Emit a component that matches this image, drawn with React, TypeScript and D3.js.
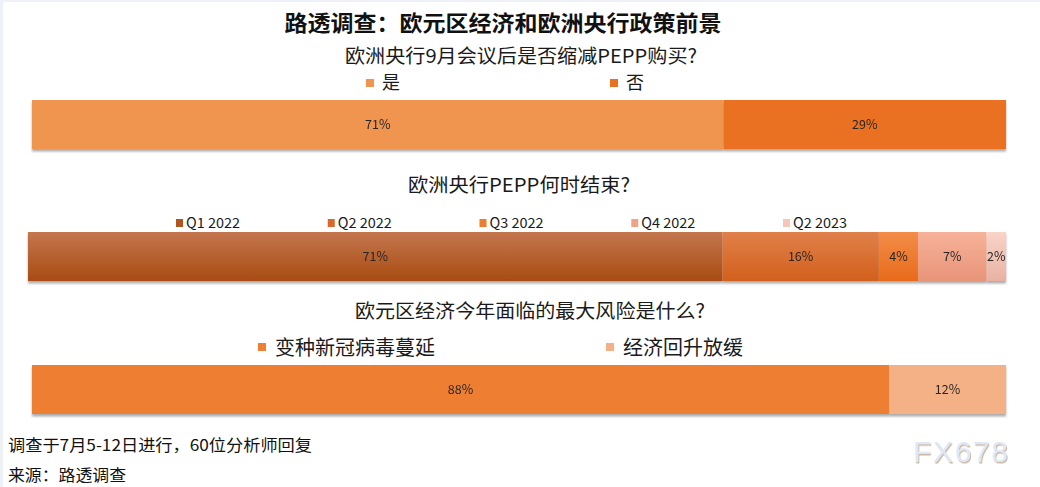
import * as d3 from 'd3';

const title = '路透调查：欧元区经济和欧洲央行政策前景';

const q1Title = '欧洲央行9月会议后是否缩减PEPP购买?';
const q1Labels = ['是', '否'];
const q1Values = [71, 29];
const q1Colors = ['#f0954f', '#eb7120'];

const q2Title = '欧洲央行PEPP何时结束?';
const q2Labels = ['Q1 2022', 'Q2 2022', 'Q3 2022', 'Q4 2022', 'Q2 2023'];
const q2Values = [71, 16, 4, 7, 2];
const q2Top = ['#c4764e', '#e0804a', '#f38d48', '#f6b299', '#f9d4c7'];
const q2Bottom = ['#a84c12', '#d2601c', '#e86b1b', '#e89478', '#e8b2a3'];
const q2Swatch = ['#b25620', '#d9692a', '#ef7b2c', '#f0a487', '#f5c7b8'];

const q3Title = '欧元区经济今年面临的最大风险是什么?';
const q3Labels = ['变种新冠病毒蔓延', '经济回升放缓'];
const q3Values = [88, 12];
const q3Colors = ['#ee7f33', '#f4b185'];

const note = '调查于7月5-12日进行，60位分析师回复';
const source = '来源：路透调查';

const W = 1040;
const H = 487;
const CJK = '"Noto Sans CJK SC", "Noto Sans", sans-serif';

function stack(values: number[]) {
  let acc = 0;
  return values.map((v) => {
    const s = { x0: acc, x1: acc + v, v };
    acc += v;
    return s;
  });
}

function Bar({
  values, colors, x0, x1, y, h, fills,
}: {
  values: number[]; colors: string[]; x0: number; x1: number; y: number; h: number; fills?: string[];
}) {
  const x = d3.scaleLinear().domain([0, d3.sum(values)]).range([x0, x1]);
  const segs = stack(values);
  return (
    <g filter="url(#shadow)">
      {segs.map((s, i) => (
        <rect key={i} x={x(s.x0)} y={y} width={x(s.x1) - x(s.x0)} height={h}
          fill={fills ? fills[i] : colors[i]} />
      ))}
      {segs.map((s, i) => (
        <text key={'t' + i} x={(x(s.x0) + x(s.x1)) / 2} y={y + h / 2 + 4.5}
          textAnchor="middle" fontSize={12.5} fill="#262626" fontFamily={CJK}>
          {s.v}%
        </text>
      ))}
    </g>
  );
}

export default function App() {
  const legend1 = d3.scalePoint<string>().domain(q1Labels).range([366, 610]);
  const legend2 = d3.scalePoint<string>().domain(q2Labels).range([176, 783]);
  const legend3 = d3.scalePoint<string>().domain(q3Labels).range([258, 606]);

  return (
    <svg width={W} height={H} style={{ position: 'absolute', left: 0, top: 0, background: '#fff' }}>
      <defs>
        <filter id="shadow" x="-5%" y="-20%" width="110%" height="150%">
          <feDropShadow dx="0" dy="2.5" stdDeviation="1.2" floodColor="#6b6b6b" floodOpacity="0.55" />
        </filter>
        {q2Labels.map((_, i) => (
          <linearGradient key={i} id={'g' + i} x1="0" y1="0" x2="0" y2="1">
            <stop offset="0" stopColor={q2Top[i]} />
            <stop offset="1" stopColor={q2Bottom[i]} />
          </linearGradient>
        ))}
        <filter id="wm" x="-10%" y="-20%" width="120%" height="150%">
          <feDropShadow dx="1" dy="1.5" stdDeviation="0.6" floodColor="#b89a7c" floodOpacity="0.7" />
        </filter>
      </defs>
      <rect x={0} y={0} width={W} height={H} fill="#fff" />
      <rect x={0} y={0} width={3} height={H} fill="#eef2f8" />
      <rect x={0} y={0} width={W} height={2} fill="#eef2f8" />

      <text x={503} y={31} textAnchor="middle" fontSize={22} fontWeight={700} fill="#111"
        fontFamily={CJK} textLength={437} lengthAdjust="spacingAndGlyphs">{title}</text>

      {/* Q1 */}
      <text x={521} y={63} textAnchor="middle" fontSize={19} fill="#1a1a1a" fontFamily={CJK}
        textLength={352} lengthAdjust="spacingAndGlyphs">{q1Title}</text>
      {q1Labels.map((l, i) => (
        <g key={l}>
          <rect x={legend1(l)!} y={79} width={8} height={8} fill={q1Colors[i]} />
          <text x={legend1(l)! + 16} y={88.5} fontSize={18} fill="#1a1a1a" fontFamily={CJK}>{l}</text>
        </g>
      ))}
      <Bar values={q1Values} colors={q1Colors} x0={32} x1={1006} y={100} h={49} />

      {/* Q2 */}
      <text x={519} y={192} textAnchor="middle" fontSize={19} fill="#1a1a1a" fontFamily={CJK}
        textLength={222} lengthAdjust="spacingAndGlyphs">{q2Title}</text>
      {q2Labels.map((l, i) => (
        <g key={l}>
          <rect x={legend2(l)!} y={219} width={7} height={8} fill={q2Swatch[i]} />
          <text x={legend2(l)! + 10} y={228} fontSize={14} fill="#1a1a1a" fontFamily={CJK}
            textLength={54} lengthAdjust="spacingAndGlyphs">{l}</text>
        </g>
      ))}
      <Bar values={q2Values} colors={q2Bottom} fills={q2Labels.map((_, i) => `url(#g${i})`)}
        x0={28} x1={1006} y={232} h={49} />

      {/* Q3 */}
      <text x={530} y={318} textAnchor="middle" fontSize={19} fill="#1a1a1a" fontFamily={CJK}
        textLength={350} lengthAdjust="spacingAndGlyphs">{q3Title}</text>
      {q3Labels.map((l, i) => (
        <g key={l}>
          <rect x={legend3(l)!} y={343} width={8} height={8} fill={q3Colors[i]} />
          <text x={legend3(l)! + 17} y={355} fontSize={20} fill="#1a1a1a" fontFamily={CJK}>{l}</text>
        </g>
      ))}
      <Bar values={q3Values} colors={q3Colors} x0={32} x1={1006} y={365} h={49} />

      <text x={8} y={451} fontSize={16} fill="#111" fontFamily={CJK}
        textLength={304} lengthAdjust="spacingAndGlyphs">{note}</text>
      <text x={8} y={481} fontSize={16} fill="#111" fontFamily={CJK}
        textLength={118} lengthAdjust="spacingAndGlyphs">{source}</text>

      <text x={913} y={462} fontSize={30} fill="#dfe8f5" fontFamily='"Liberation Sans", Arial, sans-serif'
        filter="url(#wm)" textLength={95} lengthAdjust="spacing">FX678</text>
    </svg>
  );
}
